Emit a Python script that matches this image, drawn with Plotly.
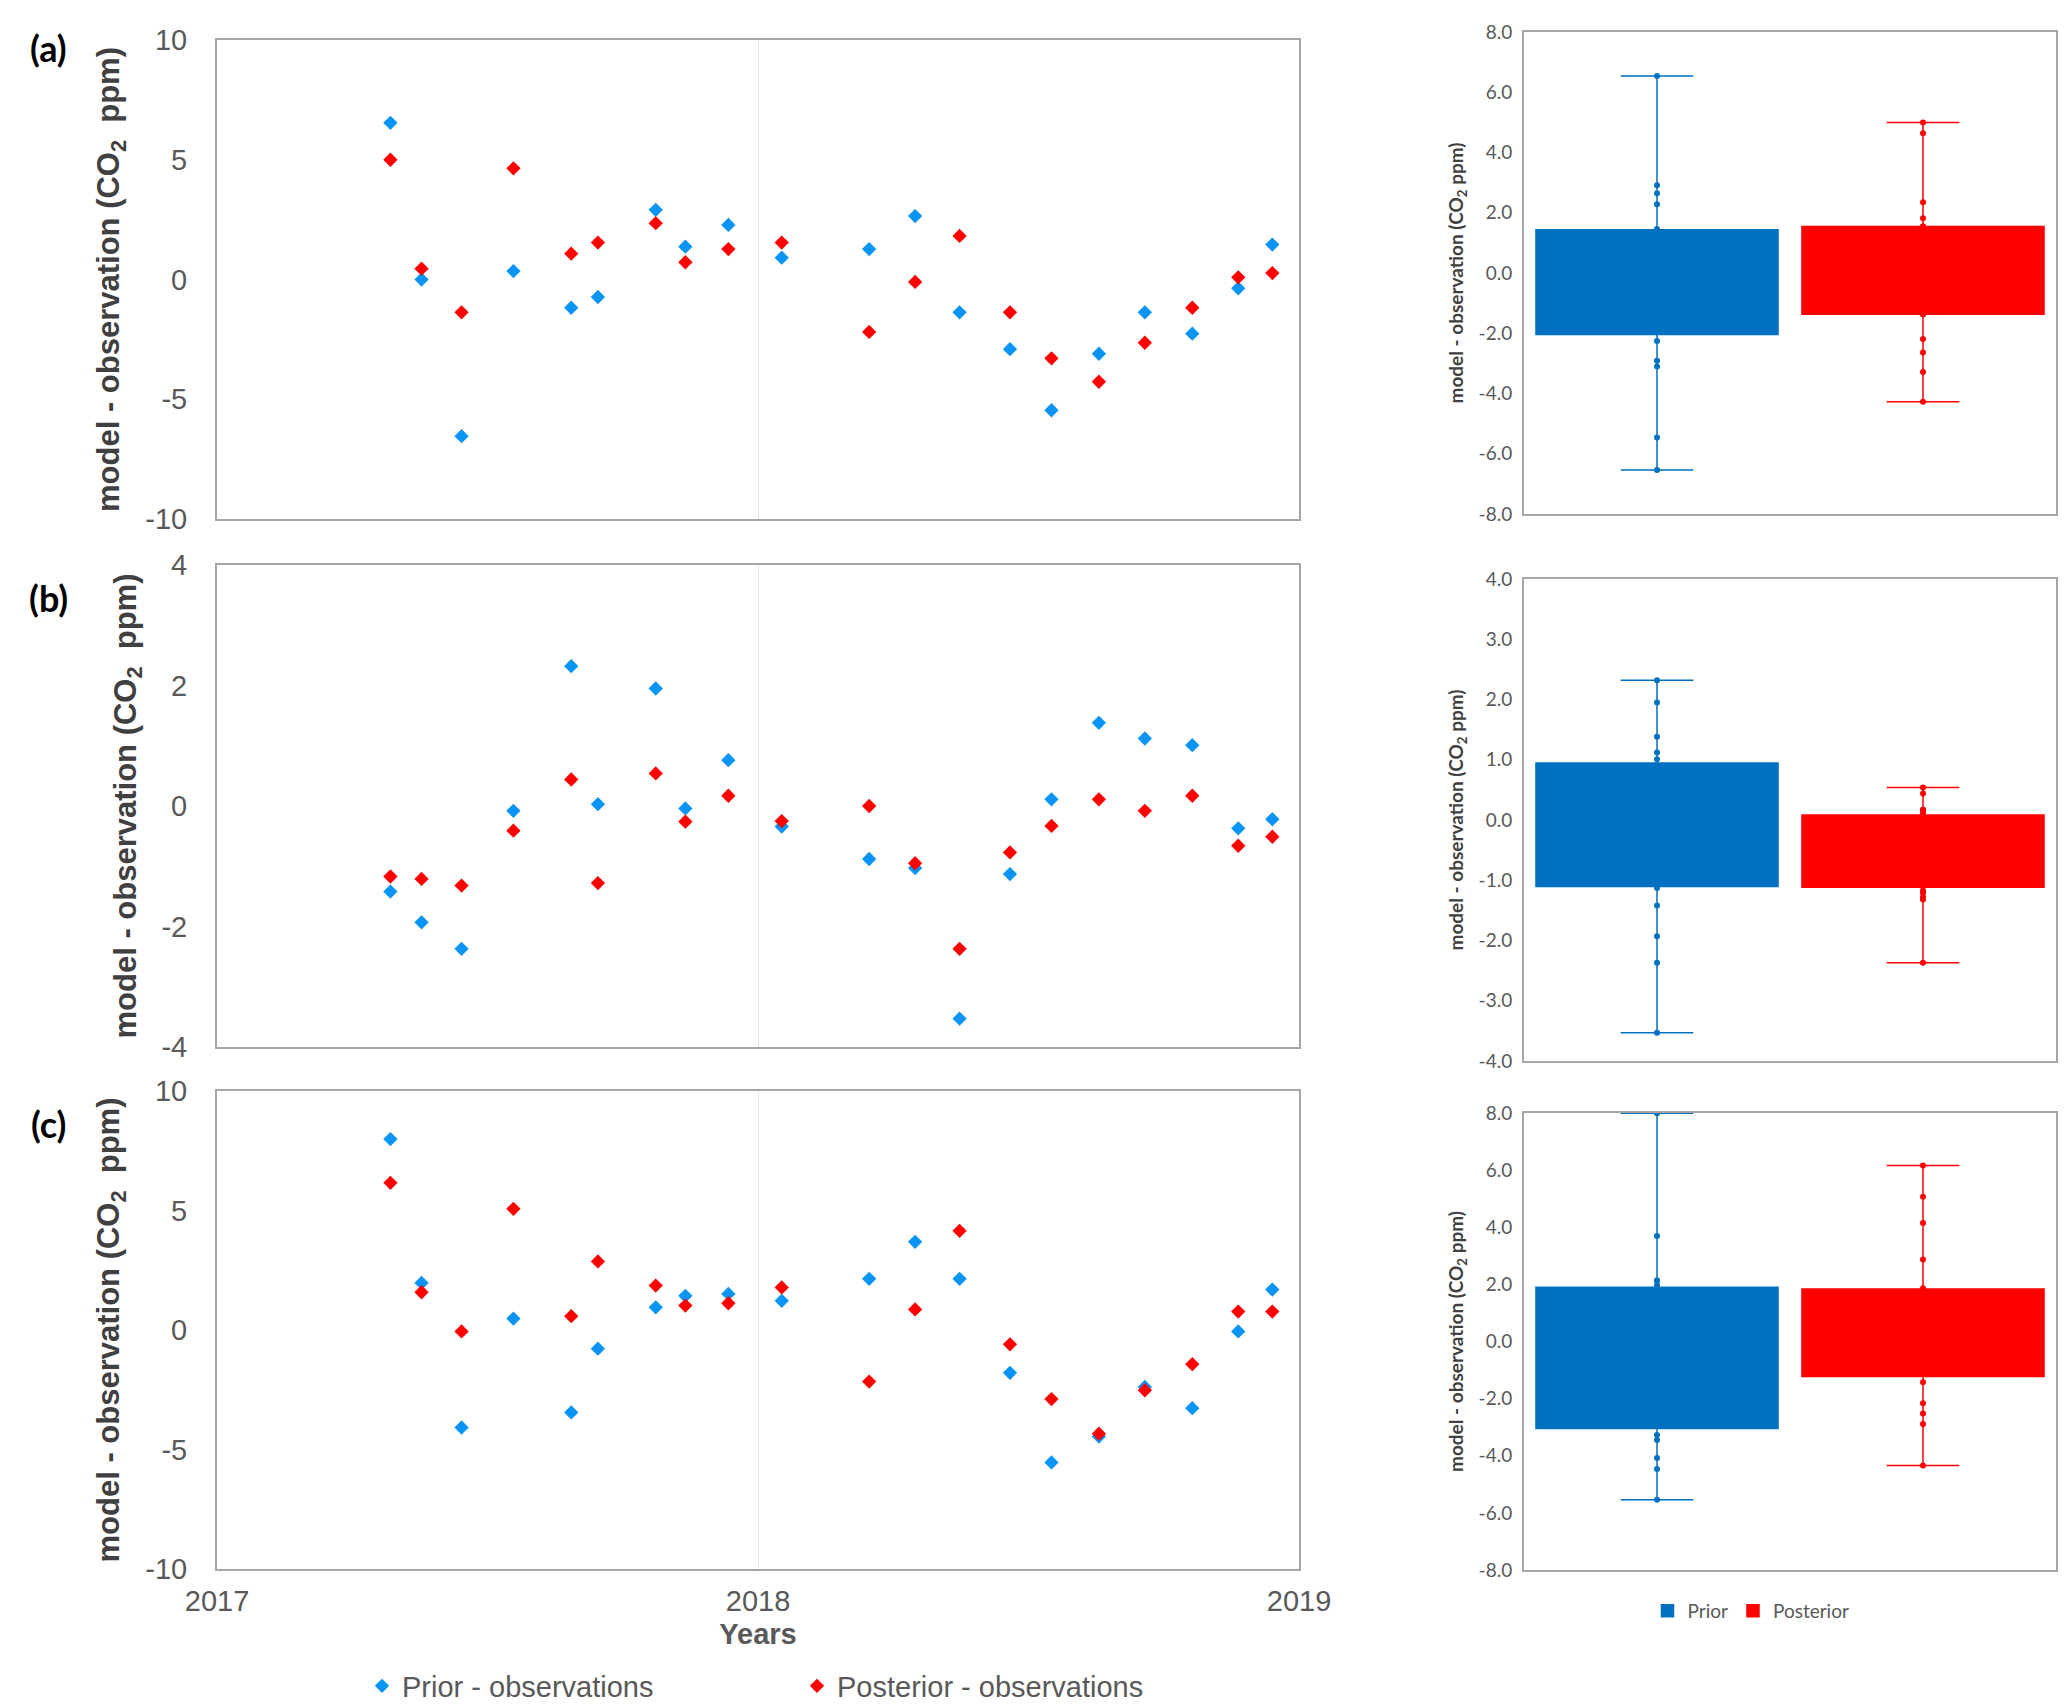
import numpy as np
import plotly.graph_objects as go

# sampling dates (same for all three sites)
dates = ["2017-04-28", "2017-05-19", "2017-06-15", "2017-07-20", "2017-08-28",
         "2017-09-15", "2017-10-24", "2017-11-13", "2017-12-12", "2018-01-17",
         "2018-03-17", "2018-04-17", "2018-05-17", "2018-06-20", "2018-07-18",
         "2018-08-19", "2018-09-19", "2018-10-21", "2018-11-21", "2018-12-14"]

# (a)
prior_a = [6.54, 0.00, -6.54, 0.35, -1.18, -0.73, 2.91, 1.37, 2.28, 0.91,
           1.27, 2.65, -1.37, -2.91, -5.46, -3.10, -1.37, -2.26, -0.37, 1.46]
post_a = [5.00, 0.45, -1.37, 4.64, 1.08, 1.54, 2.35, 0.72, 1.27, 1.54,
          -2.19, -0.10, 1.82, -1.37, -3.29, -4.27, -2.64, -1.18, 0.09, 0.27]
# (b)
prior_b = [-1.42, -1.93, -2.37, -0.08, 2.32, 0.03, 1.95, -0.04, 0.76, -0.34,
           -0.88, -1.03, -3.53, -1.13, 0.11, 1.38, 1.12, 1.01, -0.37, -0.22]
post_b = [-1.17, -1.21, -1.32, -0.41, 0.44, -1.28, 0.54, -0.26, 0.17, -0.25,
          0.00, -0.95, -2.37, -0.77, -0.33, 0.11, -0.08, 0.17, -0.66, -0.51]
# (c)
prior_c = [7.99, 1.97, -4.08, 0.48, -3.45, -0.78, 0.95, 1.43, 1.51, 1.22,
           2.14, 3.69, 2.14, -1.79, -5.54, -4.46, -2.38, -3.27, -0.06, 1.69]
post_c = [6.16, 1.58, -0.06, 5.07, 0.58, 2.87, 1.86, 1.02, 1.12, 1.78,
          -2.16, 0.86, 4.15, -0.60, -2.89, -4.34, -2.52, -1.43, 0.77, 0.77]

panel_labels = ["(a)", "(b)", "(c)"]
left_ticks = [[-10, -5, 0, 5, 10], [-4, -2, 0, 2, 4], [-10, -5, 0, 5, 10]]
right_ticks = [[-8, -6, -4, -2, 0, 2, 4, 6, 8],
               [-4, -3, -2, -1, 0, 1, 2, 3, 4],
               [-8, -6, -4, -2, 0, 2, 4, 6, 8]]
year_ticks = ["2017-01-01", "2018-01-01", "2019-01-01"]

W, H = 2067, 1705
left_x = [209 / W, 1291 / W]
right_x = [1516 / W, 2048 / W]
left_y = [(32, 511), (557, 1039), (1083, 1561)]
right_y = [(24, 506), (571, 1053), (1105, 1562)]
label_y = [40, 590, 1116]

BLUE_PT = "#0a94f5"
RED_PT = "#ff0000"
BLUE_BOX = "#0070c0"
RED_BOX = "#ff0000"
NARROW = "Liberation Sans Narrow, Arial Narrow, Liberation Sans, sans-serif"
HUMAN = "Lato, Open Sans, sans-serif"

panels = [(prior_a, post_a), (prior_b, post_b), (prior_c, post_c)]


def box_stats(vals):
    # Excel style exclusive quartiles, whiskers at min / max
    v = np.asarray(vals)
    q1, med, q3 = np.quantile(v, [0.25, 0.5, 0.75], method="weibull")
    return float(v.min()), float(q1), float(med), float(q3), float(v.max())


fig = go.Figure()
layout = dict(width=W, height=H,
              margin=dict(l=0, r=0, t=0, b=0, autoexpand=False),
              paper_bgcolor="white", plot_bgcolor="white")

for i, (pri, post) in enumerate(panels):
    n_l = 2 * i + 1
    n_r = 2 * i + 2
    xl, yl = f"x{n_l}", f"y{n_l}"
    xr, yr = f"x{n_r}", f"y{n_r}"

    fig.add_trace(go.Scatter(x=dates, y=pri, mode="markers", xaxis=xl, yaxis=yl,
                             name="Prior - observations", legend="legend",
                             marker=dict(symbol="diamond", size=11, color=BLUE_PT),
                             showlegend=(i == 0)))
    fig.add_trace(go.Scatter(x=dates, y=post, mode="markers", xaxis=xl, yaxis=yl,
                             name="Posterior - observations", legend="legend",
                             marker=dict(symbol="diamond", size=11, color=RED_PT),
                             showlegend=(i == 0)))

    for vals, nm, col in [(pri, "Prior", BLUE_BOX), (post, "Posterior", RED_BOX)]:
        lo, q1, med, q3, hi = box_stats(vals)
        fig.add_trace(go.Box(x=[nm], q1=[q1], median=[med], q3=[q3],
                             lowerfence=[lo], upperfence=[hi], orientation="v",
                             name=nm, xaxis=xr, yaxis=yr, legend="legend2",
                             fillcolor=col, line=dict(color=col, width=1.5),
                             width=0.91, whiskerwidth=0.3, boxpoints=False,
                             showlegend=(i == 2)))
        fig.add_trace(go.Scatter(x=[nm] * len(vals), y=vals, mode="markers",
                                 xaxis=xr, yaxis=yr, showlegend=False,
                                 marker=dict(color=col, size=6)))

    y0, y1 = left_y[i]
    lt = left_ticks[i]
    layout[f"xaxis{n_l}"] = dict(
        domain=left_x, anchor=yl, type="date",
        range=[year_ticks[0], year_ticks[-1]],
        tickvals=year_ticks, tickformat="%Y",
        showticklabels=(i == 2), showgrid=True, gridcolor="#e6e6e6", gridwidth=1,
        showline=True, linecolor="#a6a6a6", linewidth=2, mirror=True,
        ticks="outside", ticklen=5, tickcolor="rgba(0,0,0,0)",
        tickfont=dict(family=NARROW, size=29, color="#595959"),
        title=dict(text="<b>Years</b>" if i == 2 else "", standoff=8,
                   font=dict(family=NARROW, size=29, color="#595959")),
    )
    if i < 2:
        layout[f"xaxis{n_l}"]["matches"] = "x5"
    layout[f"yaxis{n_l}"] = dict(
        domain=[1 - y1 / H, 1 - y0 / H], anchor=xl,
        range=[lt[0], lt[-1]], tickvals=lt, ticktext=[str(v) for v in lt],
        showgrid=False, zeroline=False,
        showline=True, linecolor="#a6a6a6", linewidth=2, mirror=True,
        ticks="outside", ticklen=22, tickcolor="rgba(0,0,0,0)",
        tickfont=dict(family=NARROW, size=29, color="#595959"),
        title=dict(text="<b>model - observation (CO<sub>2</sub>&nbsp; ppm)</b>",
                   standoff=16, font=dict(family=NARROW, size=31, color="#404040")),
    )

    r0, r1 = right_y[i]
    rt = right_ticks[i]
    layout[f"xaxis{n_r}"] = dict(
        domain=right_x, anchor=yr, type="category", range=[-0.5, 1.5],
        showticklabels=False, showgrid=False, ticks="",
        showline=True, linecolor="#a6a6a6", linewidth=2, mirror=True,
    )
    layout[f"yaxis{n_r}"] = dict(
        domain=[1 - r1 / H, 1 - r0 / H], anchor=xr,
        range=[rt[0], rt[-1]], tickvals=rt, ticktext=[f"{v:.1f}" for v in rt],
        showgrid=False, zeroline=False,
        showline=True, linecolor="#a6a6a6", linewidth=2, mirror=True,
        ticks="outside", ticklen=6, tickcolor="rgba(0,0,0,0)",
        tickfont=dict(family=HUMAN, size=19, color="#595959"),
        title=dict(text="<b>model - observation (CO<sub>2</sub> ppm)</b>",
                   standoff=10, font=dict(family=HUMAN, size=19, color="#404040")),
    )

annotations = []
for lab, ly in zip(panel_labels, label_y):
    annotations.append(dict(text=f"<b>{lab}</b>", x=40 / W, y=1 - ly / H,
                            xref="paper", yref="paper", showarrow=False,
                            xanchor="center", yanchor="middle",
                            font=dict(family=HUMAN, size=36, color="black")))
layout["annotations"] = annotations

layout["legend"] = dict(orientation="h", x=789 / W, xanchor="center",
                        y=1 - 1678 / H, yanchor="middle",
                        entrywidth=390, entrywidthmode="pixels",
                        font=dict(family=NARROW, size=29, color="#595959"))
layout["legend2"] = dict(orientation="h", x=1743 / W, xanchor="center",
                         y=1 - 1603 / H, yanchor="middle", itemwidth=30,
                         font=dict(family=HUMAN, size=19, color="#595959"))

fig.update_layout(**layout)
fig.write_html("out.html")
